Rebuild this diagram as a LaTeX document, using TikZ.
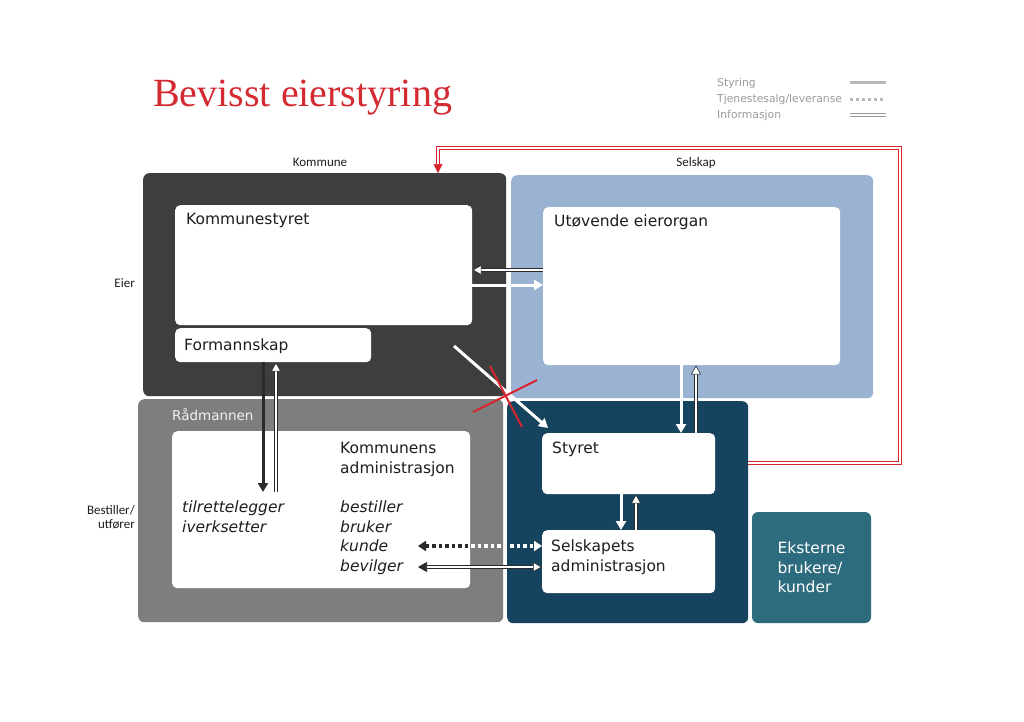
\documentclass[tikz,border=0pt]{standalone}
\usepackage{fontspec}
\setmainfont{DejaVu Sans}
\newfontfamily\titlefont{Liberation Serif}
\newfontfamily\labfont{Carlito}
\usetikzlibrary{arrows.meta,calc}
\definecolor{komdark}{HTML}{3D3F3E}
\definecolor{selblue}{HTML}{9BB3D2}
\definecolor{radgray}{HTML}{7C7E7F}
\definecolor{stydark}{HTML}{16435D}
\definecolor{eksteal}{HTML}{2D6C7E}
\definecolor{redline}{HTML}{D8262E}
\definecolor{titlered}{HTML}{D42A32}
\definecolor{linedark}{HTML}{2A2A2A}
\definecolor{textdark}{HTML}{1E1E1E}
\definecolor{leggray}{HTML}{9A9A9A}
\begin{document}
\begin{tikzpicture}[x=1pt,y=-1pt,
  bigbox/.style={rounded corners=6pt, inner sep=0pt, anchor=north west},
  whitebox/.style={fill=white, rounded corners=5pt, inner sep=0pt, anchor=north west},
  txt/.style={font=\fontsize{15.5}{19.5}\selectfont, text=textdark, inner sep=0pt, anchor=north west, align=left},
  itxt/.style={txt, font=\fontsize{15.5}{19.5}\selectfont\itshape},
  lab/.style={font=\labfont\fontsize{13}{14.5}\selectfont, text=textdark, inner sep=0pt},
  legtxt/.style={font=\fontsize{10.8}{12}\selectfont, text=leggray, inner sep=0pt, anchor=base west},
  styw/.style={draw=white, line width=3pt, -{Triangle[length=9pt,width=10pt]}},
  stydk/.style={draw=linedark, line width=3pt, -{Triangle[length=9pt,width=10pt]}},
  info/.style={draw=linedark, double=white, double distance=2.2pt, line width=0.8pt,
    -{Triangle[length=9pt,width=10pt,fill=white,line width=0.6pt]}},
  tjw/.style={draw=white, line width=3.5pt, dash pattern=on 3.5pt off 3pt,
    {Triangle[length=8pt,width=10pt]}-{Triangle[length=8pt,width=10pt]}},
  tjd/.style={draw=linedark, line width=3.5pt, dash pattern=on 3.5pt off 3pt,
    {Triangle[length=8pt,width=10pt]}-},
  redl/.style={draw=redline, double=white, double distance=2.2pt, line width=1pt,
    -{Triangle[length=9pt,width=9pt,fill=redline,line width=0.6pt]}},
  redx/.style={draw=redline, line width=2pt}
]
\useasboundingbox[fill=white] (0,0) rectangle (1024,721);

% title and legend
\node[font=\titlefont\fontsize{40}{44}\selectfont, text=titlered, anchor=base west, inner sep=0pt] (title) at (153,106) {Bevisst eierstyring};
\node[legtxt] (l1) at (717,86) {Styring};
\node[legtxt] (l2) at (717,102) {Tjenestesalg/leveranse};
\node[legtxt] (l3) at (717,118) {Informasjon};
\draw[leggray!70, line width=3pt] (850,82) -- (886,82);
\draw[leggray!70, line width=3pt, dash pattern=on 3pt off 3pt] (850,99) -- (886,99);
\draw[leggray, double=white, double distance=2pt, line width=0.9pt] (850,115) -- (886,115);

% side labels
\node[lab] (lkom) at (320,162) {Kommune};
\node[lab] (lsel) at (696,163) {Selskap};
\node[lab, anchor=east] (leier) at (135,283) {Eier};
\node[lab, anchor=east, align=right] (lbest) at (135,517) {Bestiller/\\utfører};

% big boxes
\node[bigbox, fill=komdark, minimum width=363pt, minimum height=223pt] (kom) at (143,173) {};
\node[bigbox, fill=selblue, minimum width=362pt, minimum height=223pt] (sel) at (511,175) {};
\node[bigbox, fill=radgray, minimum width=365pt, minimum height=223pt] (rad) at (138,399) {};
\node[bigbox, fill=stydark, minimum width=241pt, minimum height=222pt] (sdark) at (507,401) {};
\node[rounded corners=6pt, fill=eksteal, minimum width=119pt, minimum height=111pt, inner sep=0pt,
  text=white, align=left, font=\fontsize{15.5}{19.5}\selectfont] (eks) at (811.5,567.5) {Eksterne\\brukere/\\kunder};

% white boxes
\node[whitebox, minimum width=297pt, minimum height=120pt] (kstyr) at (175,205) {};
\node[whitebox, minimum width=196pt, minimum height=34pt] (formann) at (175,328) {};
\node[whitebox, minimum width=297pt, minimum height=158pt] (utov) at (543,207) {};
\node[whitebox, minimum width=298pt, minimum height=157pt] (radin) at (172,431) {};
\node[whitebox, minimum width=173pt, minimum height=61pt] (styret) at (542,433) {};
\node[whitebox, minimum width=173pt, minimum height=63pt] (selsk) at (542,530) {};

% texts
\node[txt] (tkstyr) at (186,213) {Kommunestyret};
\node[txt] (tform) at (184,339) {Formannskap};
\node[txt] (tutov) at (554,215) {Utøvende eierorgan};
\node[txt, text=white!90!gray, font=\fontsize{13.5}{16}\selectfont] (trad) at (172,408) {Rådmannen};
\node[txt] (tkadm) at (340,442) {Kommunens\\administrasjon};
\node[itxt] (ttil) at (182,501) {tilrettelegger\\iverksetter};
\node[itxt] (tbest) at (340,501) {bestiller\\bruker\\kunde\\bevilger};
\node[txt] (tsty) at (552,442) {Styret};
\node[txt] (tsadm) at (551,540) {Selskapets\\administrasjon};

% connectors
\draw[info] (utov.west |- 0,270) -- (kstyr.east |- 0,270);
\draw[styw] (kstyr.east |- 0,285) -- (utov.west |- 0,285);

\coordinate (fdown) at (263,492);
\coordinate (fup) at (276,492);
\draw[stydk] (formann.south -| fdown) -- (fdown);
\draw[info] (fup) -- (formann.south -| fup);

\coordinate (dstart) at (454,346);
\coordinate (dend) at (548,428);
\draw[styw] (dstart) -- (dend);
\draw[redx] (490,366) -- (522,427);
\draw[redx] (473,412) -- (537,380);

\draw[styw] (utov.south -| 681,0) -- (styret.north -| 681,0);
\draw[info] (styret.north -| 696,0) -- (utov.south -| 696,0);
\draw[styw] (styret.south -| 621,0) -- (selsk.north -| 621,0);
\draw[info] (selsk.north -| 636,0) -- (styret.south -| 636,0);

\coordinate (tL) at (418,546);
\draw[tjw] (tL) -- (selsk.west |- tL);
\draw[tjd] (tL) -- (radin.east |- tL);

\coordinate (iL) at (418,567);
\draw[info, {Triangle[length=9pt,width=10pt,fill=linedark,line width=0.6pt]}-{Triangle[length=9pt,width=10pt,fill=white,line width=0.6pt]}] (iL) -- (selsk.west |- iL);

\coordinate (rc) at (900,148);
\draw[redl] (sdark.east |- 0,463) -| (rc) -| (kom.north -| 438,0);
\end{tikzpicture}
\end{document}
